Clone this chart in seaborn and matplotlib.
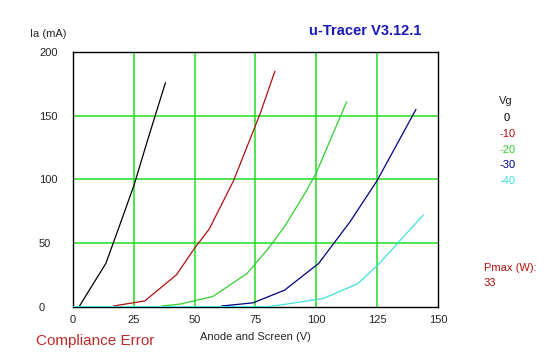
import numpy as np
import pandas as pd
import matplotlib
matplotlib.use('Agg')
import matplotlib.pyplot as plt
import seaborn as sns

# Traces (anode+screen volts, anode mA)
vg_labels = ['0', '-10', '-20', '-30', '-40']
vg_colors = ['#000000', '#b01010', '#30d030', '#000080', '#40e0e0']

v_0 = [2.5, 13.5, 19, 25, 31, 38]
i_0 = [0, 34, 63, 95, 133, 176]

v_10 = [16.5, 29.5, 42.5, 50, 56, 66, 77, 83]
i_10 = [0.5, 4.5, 25, 46, 61, 99, 152, 185]

v_20 = [36.5, 44, 57.5, 71.5, 80, 87, 95, 100, 106, 112.5]
i_20 = [0.5, 2, 8, 26, 45, 63, 88, 105, 132, 161]

v_30 = [61, 74, 87, 101, 114, 125, 133, 141]
i_30 = [0.5, 3, 13, 34, 67, 99, 127, 155]

v_40 = [0, 80, 86, 103, 117, 125.5, 134, 144]
i_40 = [0, 0, 1.5, 6.5, 18, 33, 51, 72]

x_ticks = [0, 25, 50, 75, 100, 125, 150]
y_ticks = [0, 50, 100, 150, 200]
pmax = '33'

frames = []
for lab, v, i in zip(vg_labels, [v_0, v_10, v_20, v_30, v_40],
                     [i_0, i_10, i_20, i_30, i_40]):
    frames.append(pd.DataFrame({'V': v, 'I': i, 'Vg': lab}))
df = pd.concat(frames, ignore_index=True)

sns.set_style('white')
plt.rcParams['font.family'] = ['Liberation Sans', 'DejaVu Sans']

fig = plt.figure(figsize=(5.47, 3.57), dpi=100)
ax = fig.add_axes([0.1335, 0.141, 0.667, 0.713])

# green grid
for x in x_ticks[1:-1]:
    ax.axvline(x, color='#22dd22', lw=1.1, zorder=1)
for y in y_ticks[1:-1]:
    ax.axhline(y, color='#22dd22', lw=1.1, zorder=1)

sns.lineplot(data=df, x='V', y='I', hue='Vg', hue_order=vg_labels,
             palette=dict(zip(vg_labels, vg_colors)), estimator=None,
             sort=False, lw=0.9, legend=False, ax=ax, zorder=3)

ax.set_xlim(0, 150)
ax.set_ylim(0, 200)
ax.set_xticks(x_ticks)
ax.set_yticks(y_ticks)
ax.tick_params(axis='x', labelsize=8, length=0, pad=6)
ax.tick_params(axis='y', labelsize=8, length=2, width=1, color='black',
               direction='out', pad=22.5)
for t in ax.get_yticklabels():
    t.set_ha('left')
ax.set_xlabel('Anode and Screen (V)', fontsize=8, labelpad=5)
ax.set_ylabel('')
for s in ax.spines.values():
    s.set_color('black')
    s.set_linewidth(1)

fig.text(0.055, 0.905, 'Ia (mA)', fontsize=8, ha='left', va='center')
fig.text(0.667, 0.912, 'u-Tracer V3.12.1', fontsize=10.5, color='#1818b8',
         ha='center', va='center', fontweight='bold')
fig.text(0.065, 0.044, 'Compliance Error', fontsize=11, color='#c02828',
         ha='left', va='center')

# legend column on the right
fig.text(0.925, 0.717, 'Vg', fontsize=8, ha='center', va='center')
for k, (lab, col) in enumerate(zip(vg_labels, vg_colors)):
    fig.text(0.927, 0.670 - k * 0.0445, lab, fontsize=8, color=col,
             ha='center', va='center')

fig.text(0.884, 0.249, 'Pmax (W):', fontsize=8, color='#b01010',
         ha='left', va='center')
fig.text(0.884, 0.207, pmax, fontsize=8, color='#b01010',
         ha='left', va='center')

fig.savefig('out.png', dpi=100)
